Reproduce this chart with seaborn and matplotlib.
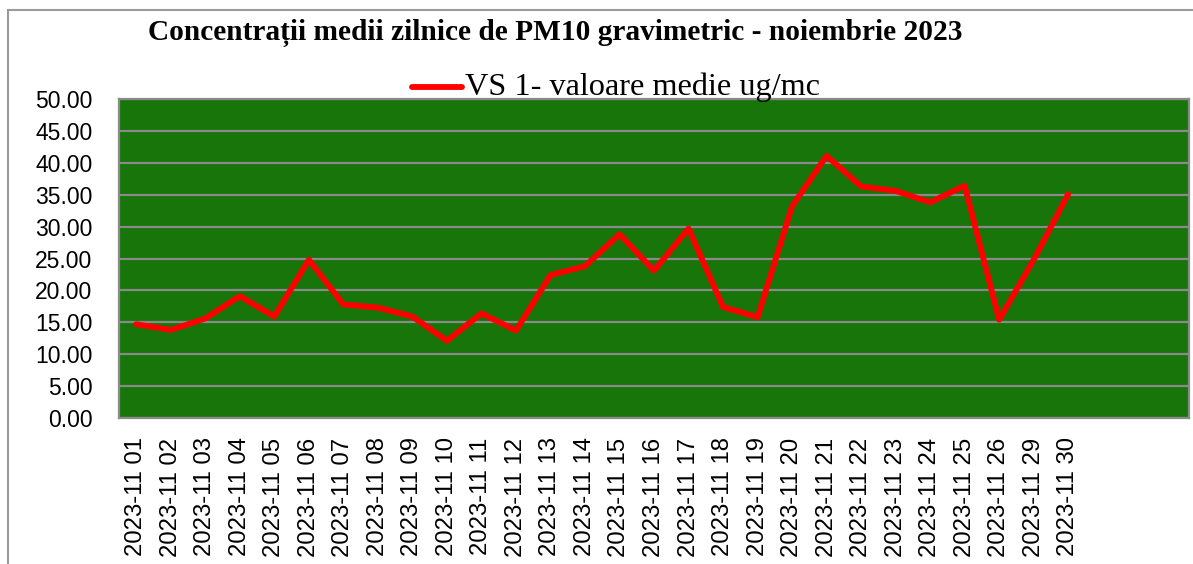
import matplotlib
matplotlib.use("Agg")
import matplotlib.pyplot as plt
import seaborn as sns
import pandas as pd
from matplotlib.patches import Rectangle
from matplotlib.lines import Line2D

dates = ["2023-11 01", "2023-11 02", "2023-11 03", "2023-11 04", "2023-11 05",
         "2023-11 06", "2023-11 07", "2023-11 08", "2023-11 09", "2023-11 10",
         "2023-11 11", "2023-11 12", "2023-11 13", "2023-11 14", "2023-11 15",
         "2023-11 16", "2023-11 17", "2023-11 18", "2023-11 19", "2023-11 20",
         "2023-11 21", "2023-11 22", "2023-11 23", "2023-11 24", "2023-11 25",
         "2023-11 26", "2023-11 29", "2023-11 30"]
values = [14.7, 13.8, 15.6, 19.1, 15.9, 24.8, 17.8, 17.3, 15.9, 12.1,
          16.4, 13.7, 22.4, 23.8, 28.8, 23.1, 29.7, 17.4, 15.8, 33.2,
          41.1, 36.3, 35.6, 33.8, 36.4, 15.4, 24.8, 35.1]
empty_slots = 3
series_name = "VS 1- valoare medie ug/mc"
title = "Concentrații medii zilnice de PM10 gravimetric - noiembrie 2023"
yticks = [0, 5, 10, 15, 20, 25, 30, 35, 40, 45, 50]

sns.set_theme(style="white")
plt.rcParams['font.family'] = ['Liberation Sans', 'DejaVu Sans']
plt.rcParams['text.color'] = 'black'

W, H = 1193, 564
fig = plt.figure(figsize=(W / 100, H / 100), dpi=100)
ax = fig.add_axes([119 / W, 1 - 418 / H, (1189 - 119) / W, (418 - 99) / H])

df = pd.DataFrame({"date": dates, "value": values})
sns.lineplot(data=df, x="date", y="value", ax=ax, color="#ff0000",
             linewidth=4.2, sort=False, legend=False)

ax.set_facecolor("#177509")
ax.set_xlim(-0.5, len(dates) - 0.5 + empty_slots)
ax.set_ylim(0, 50)
ax.set_yticks(yticks)
ax.set_yticklabels([f"{v:.2f}" for v in yticks])
ax.set_xticks(range(len(dates)))
ax.set_xticklabels(dates, rotation=90)
ax.tick_params(axis="y", length=0, pad=19, labelsize=16.5, colors="black")
ax.tick_params(axis="x", length=0, pad=14, labelsize=17.2, colors="black")
ax.set_xlabel("")
ax.set_ylabel("")
ax.grid(axis="y", color="#8a8a8a", linewidth=1.6)
ax.grid(axis="x", visible=False)
ax.set_axisbelow(True)
for s in ax.spines.values():
    s.set_visible(True)
    s.set_color("#8a8a8a")
    s.set_linewidth(1.6)

# outer chart border
fig.patches.append(Rectangle((8 / W, -0.1), 1.2, 1 - 10 / H + 0.1,
                             transform=fig.transFigure, fill=False,
                             edgecolor="#9a9a9a", linewidth=1.5))

fig.text(555 / W, 1 - 33 / H, title, ha="center", va="center", color="black",
         fontsize=21.2, fontweight="bold", family=["Liberation Serif"])

# legend
fig.lines.append(Line2D([412 / W, 462 / W], [1 - 87 / H, 1 - 87 / H],
                        transform=fig.transFigure, color="#ff0000",
                        linewidth=4.2))
fig.text(465 / W, 1 - 87 / H, series_name, ha="left", va="center",
         color="black", fontsize=23.2, family=["Liberation Serif"])

fig.savefig("out.png", dpi=100, facecolor="white")
